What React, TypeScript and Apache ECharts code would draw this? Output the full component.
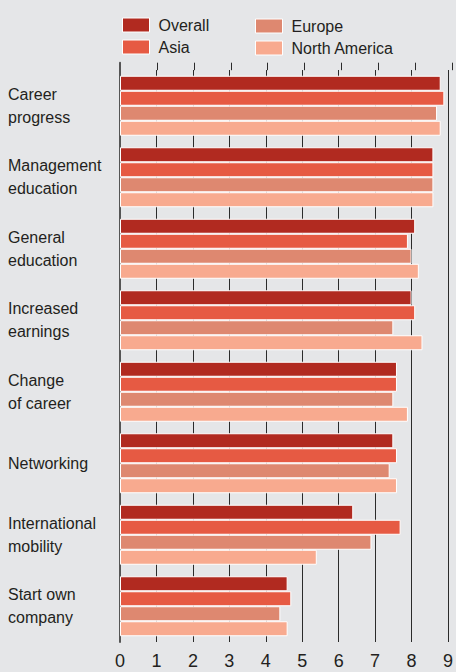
import React, { useEffect, useRef } from "react";
import * as echarts from "echarts";

const categories = [
  "Career\nprogress",
  "Management\neducation",
  "General\neducation",
  "Increased\nearnings",
  "Change\nof career",
  "Networking",
  "International\nmobility",
  "Start own\ncompany",
];
const overall = [8.8, 8.6, 8.1, 8.0, 7.6, 7.5, 6.4, 4.6];
const asia = [8.9, 8.6, 7.9, 8.1, 7.6, 7.6, 7.7, 4.7];
const europe = [8.7, 8.6, 8.0, 7.5, 7.5, 7.4, 6.9, 4.4];
const northAmerica = [8.8, 8.6, 8.2, 8.3, 7.9, 7.6, 5.4, 4.6];
const seriesNames = ["Overall", "Asia", "Europe", "North America"];
const colors = ["#b12a20", "#e65a43", "#de8870", "#f8aa8f"];
const xTicks = [0, 1, 2, 3, 4, 5, 6, 7, 8, 9];

const FONT = "'Liberation Sans', Arial, sans-serif";

export default function App() {
  const ref = useRef<HTMLDivElement>(null);
  useEffect(() => {
    if (!ref.current) return;
    const chart = echarts.init(ref.current, undefined, { renderer: "svg" });
    const values = [overall, asia, europe, northAmerica];
    const legendCommon = {
      orient: "vertical",
      itemWidth: 27,
      itemHeight: 14,
      itemGap: 6,
      selectedMode: false,
      icon: "rect",
      itemStyle: { borderColor: "#ffffff", borderWidth: 1 },
      textStyle: {
        fontFamily: FONT,
        fontSize: 16,
        lineHeight: 16,
        color: "#231f20",
        padding: [0, 0, 0, 4],
      },
    };
    chart.setOption({
      animation: false,
      backgroundColor: "#e5e6e8",
      textStyle: { fontFamily: FONT },
      legend: [
        { ...legendCommon, data: [seriesNames[0], seriesNames[1]], left: 117, top: 12 },
        { ...legendCommon, data: [seriesNames[2], seriesNames[3]], left: 250, top: 13 },
      ],
      grid: [
        { left: 120, right: 3.7, top: 70, bottom: 30, containLabel: false },
        { left: 120, right: 3.7, top: 62.7, height: 7.5, containLabel: false },
      ],
      xAxis: [
        {
          type: "value",
          gridIndex: 0,
          min: 0,
          max: 9,
          interval: 1,
          axisLine: { show: false },
          axisTick: { show: false },
          splitLine: { show: true, lineStyle: { color: "#2b2b2b", width: 1 } },
          axisLabel: {
            show: true,
            fontFamily: FONT,
            fontSize: 18,
            color: "#231f20",
            margin: 10,
            formatter: (v: number) => (xTicks.includes(v) ? String(v) : ""),
          },
        },
        {
          type: "value",
          gridIndex: 1,
          min: 0,
          max: 9,
          interval: 1,
          axisLine: { show: false },
          axisTick: { show: false },
          axisLabel: { show: false },
          splitLine: { show: true, lineStyle: { color: "#2b2b2b", width: 1 } },
        },
      ],
      yAxis: [
        {
          type: "category",
          gridIndex: 0,
          data: categories,
          inverse: true,
          axisLine: { show: true, lineStyle: { color: "#555555", width: 2 } },
          axisTick: { show: false },
          splitLine: { show: false },
          axisLabel: {
            fontFamily: FONT,
            fontSize: 16,
            lineHeight: 23,
            color: "#231f20",
            align: "left",
            margin: 112,
            padding: [0, 0, 6, 0],
          },
        },
        {
          type: "category",
          gridIndex: 1,
          data: [""],
          axisLine: { show: true, lineStyle: { color: "#555555", width: 2 } },
          axisTick: { show: false },
          axisLabel: { show: false },
          splitLine: { show: false },
        },
      ],
      series: seriesNames.map((name, i) => ({
        name,
        type: "bar",
        xAxisIndex: 0,
        yAxisIndex: 0,
        data: values[i],
        barWidth: 15,
        barGap: "0%",
        itemStyle: { color: colors[i], borderColor: "#ffffff", borderWidth: 1 },
        emphasis: { disabled: true },
      })),
    });
    return () => chart.dispose();
  }, []);
  return (
    <div
      ref={ref}
      style={{ position: "fixed", left: 0, top: 0, width: 456, height: 672 }}
    />
  );
}
